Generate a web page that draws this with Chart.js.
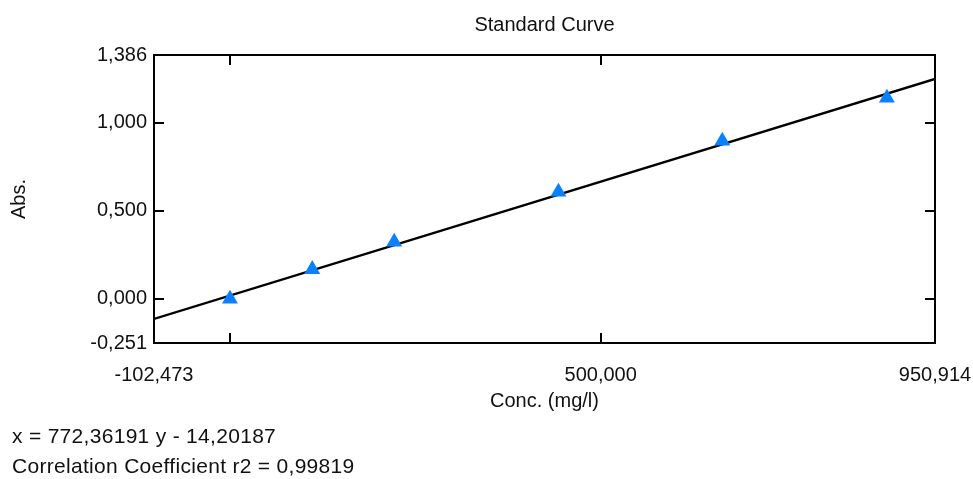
<!DOCTYPE html>
<html>
<head>
<meta charset="utf-8">
<title>Standard Curve</title>
<script src="https://cdn.jsdelivr.net/npm/chart.js@4.4.1/dist/chart.umd.min.js"></script>
<style>
    html, body { margin: 0; padding: 0; background: #fff; }
    #wrap { position: relative; width: 973px; height: 479px; }
    #chart { position: absolute; left: 0; top: 0; }
    .fit-text {
        position: absolute;
        left: 12px;
        font-family: "Liberation Sans", Arial, sans-serif;
        font-size: 21px;
        color: #111;
        white-space: nowrap;
        letter-spacing: 0.3px;
    }
</style>
</head>
<body>
<div id="wrap">
    <canvas id="chart" width="973" height="479"></canvas>
    <div class="fit-text" id="eqLine" style="top:424px"></div>
    <div class="fit-text" id="r2Line" style="top:454px"></div>
</div>
<script>
// Standards: concentration (mg/l) vs absorbance
const concValues = [0, 111, 221.5, 443, 664, 886];
const absValues = [0.000, 0.168, 0.324, 0.608, 0.898, 1.142];

// Axis limits and tick labels
const xMin = -102.473;
const xMax = 950.914;
const yMin = -0.251;
const yMax = 1.386;
const xTickValues = [-102.473, 0, 500, 950.914];
const xTickLabels = ['-102,473', '', '500,000', '950,914'];
const yTickValues = [-0.251, 0, 0.5, 1, 1.386];
const yTickLabels = ['-0,251', '0,000', '0,500', '1,000', '1,386'];

// Regression x = slope * y + offset
const fitSlope = 772.36191;
const fitOffset = -14.20187;
const fitR2 = 0.99819;

const fitPoints = [xMin, xMax].map(x => ({ x: x, y: (x - fitOffset) / fitSlope }));
const standardPoints = concValues.map((c, i) => ({ x: c, y: absValues[i] }));

const font = { family: '"Liberation Sans", Arial, sans-serif', size: 20, weight: 'normal' };

// frame round the plot area plus inward tick marks
const framePlugin = {
    id: 'frame',
    afterDatasetsDraw(chart) {
        const { ctx, chartArea: a, scales } = chart;
        ctx.save();
        ctx.strokeStyle = '#000';
        ctx.lineWidth = 2;
        ctx.strokeRect(a.left, a.top, a.right - a.left, a.bottom - a.top);
        ctx.beginPath();
        xTickValues.forEach(v => {
            if (v === xMin || v === xMax) return;
            const px = Math.round(scales.x.getPixelForValue(v));
            ctx.moveTo(px, a.bottom); ctx.lineTo(px, a.bottom - 10);
            ctx.moveTo(px, a.top); ctx.lineTo(px, a.top + 10);
        });
        yTickValues.forEach(v => {
            if (v === yMin || v === yMax) return;
            const py = Math.round(scales.y.getPixelForValue(v));
            ctx.moveTo(a.left, py); ctx.lineTo(a.left + 10, py);
            ctx.moveTo(a.right, py); ctx.lineTo(a.right - 10, py);
        });
        ctx.stroke();
        ctx.restore();
    }
};

new Chart(document.getElementById('chart'), {
    type: 'scatter',
    data: {
        datasets: [
            {
                label: 'Fit',
                data: fitPoints,
                showLine: true,
                borderColor: '#000',
                borderWidth: 2.4,
                pointRadius: 0,
                order: 2
            },
            {
                label: 'Standards',
                data: standardPoints,
                pointStyle: 'triangle',
                pointRadius: 9.2,
                backgroundColor: '#0a80ff',
                borderColor: '#0a80ff',
                borderWidth: 0,
                order: 1
            }
        ]
    },
    options: {
        responsive: false,
        animation: false,
        layout: { padding: { left: 0, right: 38, top: 0, bottom: 66 } },
        plugins: {
            legend: { display: false },
            tooltip: { enabled: false },
            title: {
                display: true,
                text: 'Standard Curve',
                fullSize: false,
                color: '#111',
                font: font,
                padding: { top: 13, bottom: 18 }
            }
        },
        scales: {
            x: {
                type: 'linear',
                min: xMin,
                max: xMax,
                grid: { display: false, drawTicks: false },
                border: { display: false },
                afterBuildTicks: scale => { scale.ticks = xTickValues.map(v => ({ value: v })); },
                afterFit: scale => {
                    scale.height = 70;
                    scale.paddingLeft = 0;
                    scale.paddingRight = 0;
                },
                ticks: {
                    autoSkip: false,
                    maxRotation: 0,
                    padding: 20,
                    color: '#111',
                    font: font,
                    callback: (v, i) => xTickLabels[i]
                },
                title: {
                    display: true,
                    text: 'Conc. (mg/l)',
                    color: '#111',
                    font: font,
                    padding: 0
                }
            },
            y: {
                type: 'linear',
                min: yMin,
                max: yMax,
                grid: { display: false, drawTicks: false },
                border: { display: false },
                afterBuildTicks: scale => { scale.ticks = yTickValues.map(v => ({ value: v })); },
                afterFit: scale => {
                    scale.width = 154;
                    scale.paddingTop = 0;
                    scale.paddingBottom = 0;
                },
                ticks: {
                    autoSkip: false,
                    padding: 7,
                    color: '#111',
                    font: font,
                    callback: (v, i) => yTickLabels[i]
                },
                title: {
                    display: true,
                    text: 'Abs.',
                    color: '#111',
                    font: font,
                    padding: { top: 7, bottom: 0 }
                }
            }
        }
    },
    plugins: [framePlugin]
});

const comma = (n, d) => n.toFixed(d).replace('.', ',');
document.getElementById('eqLine').textContent =
    'x = ' + comma(fitSlope, 5) + ' y - ' + comma(-fitOffset, 5);
document.getElementById('r2Line').textContent =
    'Correlation Coefficient r2 = ' + comma(fitR2, 5);
</script>
</body>
</html>
